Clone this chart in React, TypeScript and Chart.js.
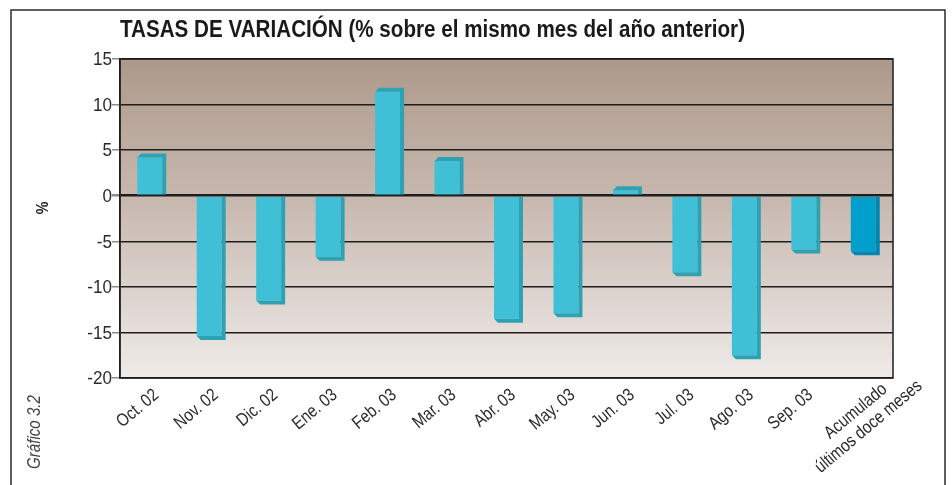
import React, { useEffect, useRef } from 'react';
import { Chart, registerables } from 'chart.js';

Chart.register(...registerables);

const categories: (string | string[])[] = [
  'Oct. 02', 'Nov. 02', 'Dic. 02', 'Ene. 03', 'Feb. 03', 'Mar. 03', 'Abr. 03',
  'May. 03', 'Jun. 03', 'Jul. 03', 'Ago. 03', 'Sep. 03', ['Acumulado', 'últimos doce meses'],
];
const values = [4.2, -15.4, -11.5, -6.7, 11.4, 3.8, -13.5, -12.9, 0.6, -8.4, -17.5, -5.9, -6.1];
const yTicks = [15, 10, 5, 0, -5, -10, -15, -20];
const titleText = 'TASAS DE VARIACIÓN (% sobre el mismo mes del año anterior)';
const yAxisLabel = '%';
const sideNote = 'Gráfico 3.2';

const FONT = '"Liberation Sans", Arial, sans-serif';
const SX = 0.84;
const faceColors = values.map((_, i) => (i === values.length - 1 ? '#009FCC' : '#40C0D6'));
const sideColors = values.map((_, i) => (i === values.length - 1 ? '#0086B0' : '#2EA2B5'));

function drawText(
  ctx: CanvasRenderingContext2D,
  text: string,
  x: number,
  y: number,
  font: string,
  align: CanvasTextAlign,
  baseline: CanvasTextBaseline,
  angle = 0,
  sx = SX,
) {
  ctx.save();
  ctx.translate(x, y);
  ctx.rotate(angle);
  ctx.scale(sx, 1);
  ctx.font = font;
  ctx.textAlign = align;
  ctx.textBaseline = baseline;
  ctx.fillText(text, 0, 0);
  ctx.restore();
}

const decorPlugin = {
  id: 'decor',
  beforeDraw(chart: any) {
    const { ctx, chartArea: a, width, height } = chart;
    ctx.save();
    ctx.fillStyle = '#ffffff';
    ctx.fillRect(0, 0, width, height);
    const g = ctx.createLinearGradient(0, a.top, 0, a.bottom);
    g.addColorStop(0, '#AD998A');
    g.addColorStop(0.45, '#C8B9B0');
    g.addColorStop(1, '#EFEBE9');
    ctx.fillStyle = g;
    ctx.fillRect(a.left, a.top, a.right - a.left, a.bottom - a.top);
    ctx.strokeStyle = '#2a2a2a';
    ctx.lineWidth = 1.5;
    ctx.beginPath();
    ctx.moveTo(11, height + 5);
    ctx.lineTo(11, 10);
    ctx.lineTo(945, 10);
    ctx.lineTo(945, height + 5);
    ctx.stroke();
    ctx.restore();
  },
  afterDatasetsDraw(chart: any) {
    const { ctx } = chart;
    const meta = chart.getDatasetMeta(0);
    const d = 4;
    ctx.save();
    meta.data.forEach((bar: any, i: number) => {
      const { x, y, base, width } = bar.getProps(['x', 'y', 'base', 'width'], true);
      const l = x - width / 2;
      const r = x + width / 2;
      ctx.fillStyle = sideColors[i];
      ctx.beginPath();
      if (y < base) {
        ctx.moveTo(l, y);
        ctx.lineTo(l + d, y - d);
        ctx.lineTo(r + d, y - d);
        ctx.lineTo(r + d, base);
        ctx.lineTo(r, base);
        ctx.lineTo(r, y);
      } else {
        ctx.moveTo(r, base);
        ctx.lineTo(r + d, base);
        ctx.lineTo(r + d, y + d);
        ctx.lineTo(l + d, y + d);
        ctx.lineTo(l, y);
        ctx.lineTo(r, y);
      }
      ctx.closePath();
      ctx.fill();
    });
    ctx.restore();
  },
  afterDraw(chart: any) {
    const { ctx, chartArea: a, scales } = chart;
    ctx.save();
    ctx.strokeStyle = '#1e1e1e';
    ctx.lineWidth = 1.5;
    ctx.strokeRect(a.left, a.top, a.right - a.left, a.bottom - a.top);

    ctx.fillStyle = '#1a1a1a';
    const tFont = `bold 23px ${FONT}`;
    ctx.font = tFont;
    const tw = ctx.measureText(titleText).width;
    drawText(ctx, titleText, 120, 37, tFont, 'left', 'alphabetic', 0, 625 / tw);

    drawText(ctx, yAxisLabel, 43, 208, `bold 17px ${FONT}`, 'center', 'middle', -Math.PI / 2);

    ctx.fillStyle = '#444';
    drawText(ctx, sideNote, 35, 432, `italic 18px ${FONT}`, 'center', 'middle', -Math.PI / 2);

    const ys = scales.y;
    ctx.fillStyle = '#2a2a2a';
    yTicks.forEach((v) => {
      drawText(ctx, String(v), 112, ys.getPixelForValue(v) + 1, `19px ${FONT}`, 'right', 'middle', 0, 0.9);
    });

    const xs = scales.x;
    const ang = (-40 * Math.PI) / 180;
    const xf = `18px ${FONT}`;
    categories.forEach((lab, i) => {
      const cx = xs.getPixelForValue(i);
      if (Array.isArray(lab)) {
        ctx.save();
        ctx.translate(cx - 1, a.bottom + 41);
        ctx.rotate(ang);
        lab.forEach((line, j) => {
          drawText(ctx, line, 0, (j - (lab.length - 1) / 2) * 20, xf, 'center', 'middle');
        });
        ctx.restore();
      } else {
        drawText(ctx, lab, cx + 1, a.bottom + 8, xf, 'right', 'top', ang);
      }
    });
    ctx.restore();
  },
};

export default function App() {
  const ref = useRef<HTMLCanvasElement>(null);
  useEffect(() => {
    if (!ref.current) return;
    const chart = new Chart(ref.current, {
      type: 'bar',
      data: {
        labels: categories as any,
        datasets: [
          {
            data: values,
            backgroundColor: faceColors,
            borderWidth: 0,
            barPercentage: 0.42,
            categoryPercentage: 1,
          },
        ],
      },
      options: {
        animation: false,
        responsive: false,
        devicePixelRatio: 1,
        layout: { padding: { left: 0, top: 59, right: 59, bottom: 0 } },
        plugins: { legend: { display: false }, tooltip: { enabled: false }, title: { display: false } },
        scales: {
          x: {
            grid: { display: false },
            border: { display: false },
            ticks: { display: false },
            afterFit: (s: any) => { s.height = 107; },
          },
          y: {
            min: -20,
            max: 15,
            afterBuildTicks: (s: any) => { s.ticks = yTicks.map((v) => ({ value: v })); },
            afterFit: (s: any) => { s.width = 120; },
            grid: {
              color: '#1e1e1e',
              lineWidth: (c: any) => (c.tick && c.tick.value === 0 ? 2.5 : 1.5),
              tickColor: '#8a8a8a',
              tickLength: 8,
            },
            border: { display: true, color: '#1e1e1e', width: 1.5 },
            ticks: { display: false },
          },
        },
      },
      plugins: [decorPlugin],
    });
    return () => chart.destroy();
  }, []);
  return (
    <div style={{ position: 'absolute', left: 0, top: 0, width: 952, height: 485 }}>
      <canvas ref={ref} width={952} height={485} style={{ display: 'block' }} />
    </div>
  );
}
